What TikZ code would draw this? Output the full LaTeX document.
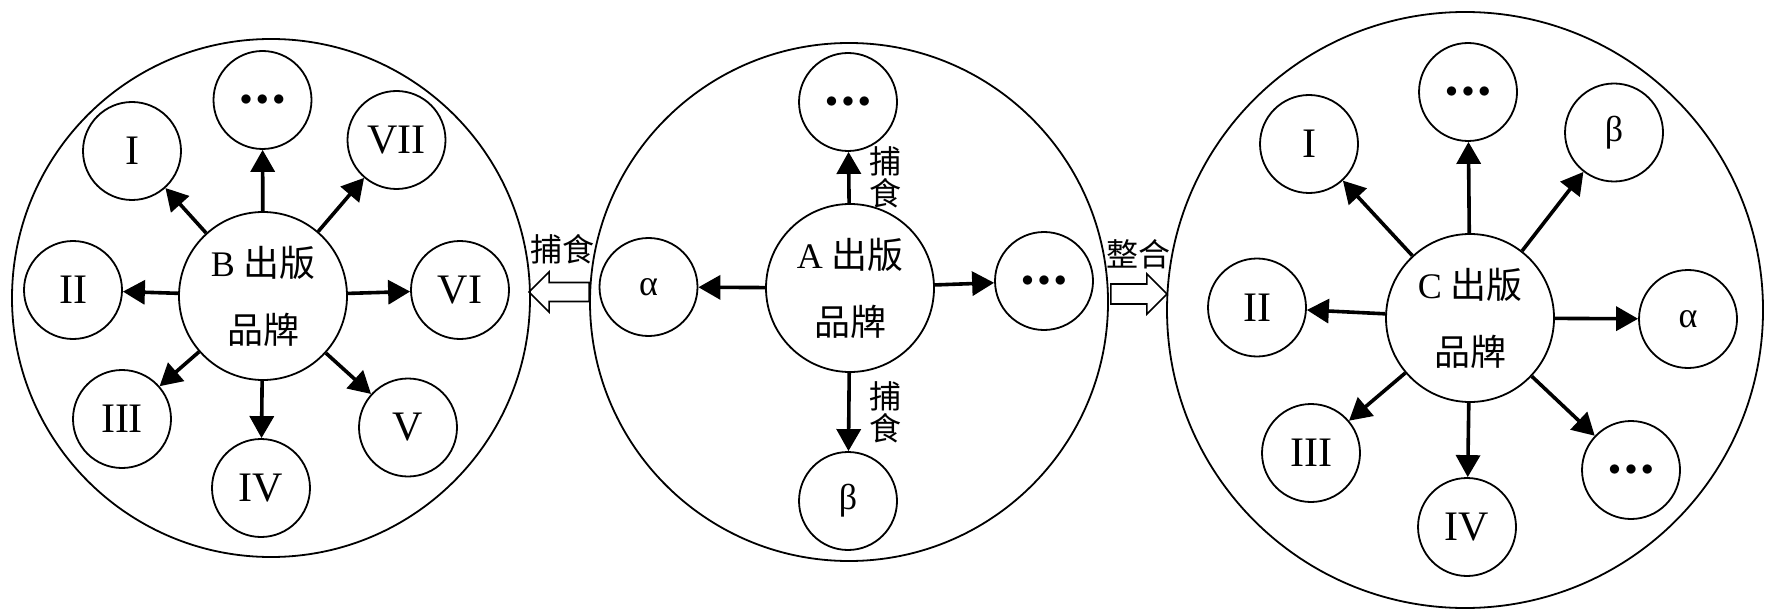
\documentclass[tikz,border=0pt]{standalone}
\usepackage{fontspec}
\setmainfont{Liberation Serif}
\newfontfamily\cjk{Noto Sans CJK SC}
\usetikzlibrary{positioning,arrows.meta}
\newcommand{\mydots}{{\fontsize{12.5}{12.5}\selectfont$\bullet$\hspace{2.2pt}$\bullet$\hspace{2.2pt}$\bullet$}}

\begin{document}
\begin{tikzpicture}[x=0.5pt, y=-0.5pt,
	outer/.style={draw, circle, line width=0.9pt, minimum size=#1, inner sep=0pt},
	hub/.style={draw, circle, line width=0.9pt, minimum size=84pt, inner sep=0pt, align=center, font=\cjk\fontsize{18}{33.5}\selectfont},
	sat/.style={draw, circle, line width=0.9pt, minimum size=49pt, inner sep=0pt, font=\fontsize{21}{21}\selectfont},
	link/.style={line width=1.8pt, -{Triangle[length=11pt, width=12pt]}},
	hollow/.style={draw, line width=0.8pt, line join=miter},
	lbl/.style={font=\cjk\fontsize{16}{16}\selectfont, align=center}]
			\useasboundingbox (0,0) rectangle (1775,609);
			\node [outer=259pt] (Bout) at (271,298) {};
			\node [hub] (B) at (263,296) {{\rmfamily B}\ 出版\\品牌};
			\node [sat] (b0) at (262.5,100) {\mydots};
			\node [sat] (b1) at (132,151) {I};
			\node [sat] (b7) at (396.5,140) {VII};
			\node [sat] (b2) at (73,290) {II};
			\node [sat] (b6) at (460,290) {VI};
			\node [sat] (b3) at (122,419) {III};
			\node [sat] (b5) at (408,427.5) {V};
			\node [sat] (b4) at (261,488) {IV};
			\draw [link] (B) -- (b0);
			\draw [link] (B) -- (b1);
			\draw [link] (B) -- (b7);
			\draw [link] (B) -- (b2);
			\draw [link] (B) -- (b6);
			\draw [link] (B) -- (b3);
			\draw [link] (B) -- (b5);
			\draw [link] (B) -- (b4);
			\node [outer=259pt] (Aout) at (849,302) {};
			\node [hub] (A) at (850,288) {{\rmfamily A}\ 出版\\品牌};
			\node [sat] (a0) at (848,102) {\mydots};
			\node [sat] (a1) at (648.5,287) {\fontsize{18}{18}\selectfont α};
			\node [sat] (a2) at (1044,281) {\mydots};
			\node [sat] (a3) at (848,501) {\fontsize{18}{18}\selectfont β};
			\draw [link] (A) -- node [right=6pt, lbl] (eatU) {捕\\食} (a0);
			\draw [link] (A) -- (a1);
			\draw [link] (A) -- (a2);
			\draw [link] (A) -- node [right=6pt, lbl] (eatD) {捕\\食} (a3);
			\node [outer=298pt] (Cout) at (1465,310) {};
			\node [hub] (C) at (1470,318) {{\rmfamily C}\ 出版\\品牌};
			\node [sat] (c0) at (1468,92) {\mydots};
			\node [sat] (c1) at (1309,144) {I};
			\node [sat] (c7) at (1614,132.5) {\fontsize{18}{18}\selectfont β};
			\node [sat] (c2) at (1257,307.5) {II};
			\node [sat] (c6) at (1688,319) {\fontsize{18}{18}\selectfont α};
			\node [sat] (c3) at (1311,453) {III};
			\node [sat] (c5) at (1631,470) {\mydots};
			\node [sat] (c4) at (1467,527) {IV};
			\draw [link] (C) -- (c0);
			\draw [link] (C) -- (c1);
			\draw [link] (C) -- (c7);
			\draw [link] (C) -- (c2);
			\draw [link] (C) -- (c6);
			\draw [link] (C) -- (c3);
			\draw [link] (C) -- (c5);
			\draw [link] (C) -- (c4);
			\draw [hollow] (Aout.west) ++(0,-19.5) -- ++(-40,0) -- ++(0,-10.5) -- ++(-20,20) -- ++(20,20) -- ++(0,-10.5) -- ++(40,0) -- cycle;
			\node [lbl] (eatB) at (562,249) {捕食};
			\draw [hollow] (Aout.east) ++(2,-18) -- ++(36,0) -- ++(0,-10) -- ++(20,20) -- ++(-20,20) -- ++(0,-10) -- ++(-36,0) -- cycle;
			\node [lbl] (mergeC) at (1138,254) {整合};
		\end{tikzpicture}
\end{document}
